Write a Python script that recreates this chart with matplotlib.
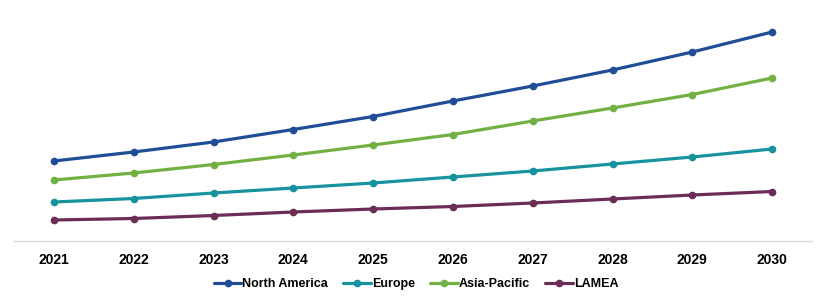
import matplotlib
matplotlib.use("Agg")
import matplotlib.pyplot as plt

years = ["2021", "2022", "2023", "2024", "2025", "2026", "2027", "2028", "2029", "2030"]
north_america = [80, 89, 99, 111.5, 124.5, 140, 155, 171, 189, 209]
europe = [39, 42.5, 48, 53, 58, 64, 70, 77, 84, 92]
asia_pacific = [61, 68, 76.5, 86, 96, 106.5, 120, 133, 146.5, 163]
lamea = [21, 22.5, 25.5, 29, 32, 34.5, 38, 42, 46, 49.5]

series = [
    ("North America", north_america, "#1F4E96"),
    ("Europe", europe, "#17939E"),
    ("Asia-Pacific", asia_pacific, "#72B043"),
    ("LAMEA", lamea, "#6B2D55"),
]

plt.rcParams['font.family'] = ['Liberation Sans', 'DejaVu Sans']

W, H = 827, 304
fig = plt.figure(figsize=(W / 100, H / 100), dpi=100)
ax = fig.add_axes([14 / W, (H - 241) / H, (812 - 14) / W, (241 - 10) / H])

x = list(range(len(years)))
for name, vals, col in series:
    ax.plot(x, vals, color=col, lw=2.3, marker='o', ms=4.5, label=name,
            solid_capstyle='round')

ax.set_xlim(-0.5, len(years) - 0.5)
ax.set_ylim(0, 231)
ax.set_xticks(x)
ax.set_xticklabels(years, fontsize=10, fontweight='bold')
ax.tick_params(axis='x', length=0, pad=9)
ax.set_yticks([])
for s in ['top', 'right', 'left']:
    ax.spines[s].set_visible(False)
ax.spines['bottom'].set_color('#D9D9D9')
ax.spines['bottom'].set_linewidth(1)

leg = fig.legend(loc='center', bbox_to_anchor=(416 / W, 1 - 284 / H), ncol=4,
                 frameon=False, prop={'size': 9, 'weight': 'bold'},
                 handlelength=2.2, handletextpad=0.1, columnspacing=1.2)

fig.savefig("out.png", dpi=100, facecolor='white')
